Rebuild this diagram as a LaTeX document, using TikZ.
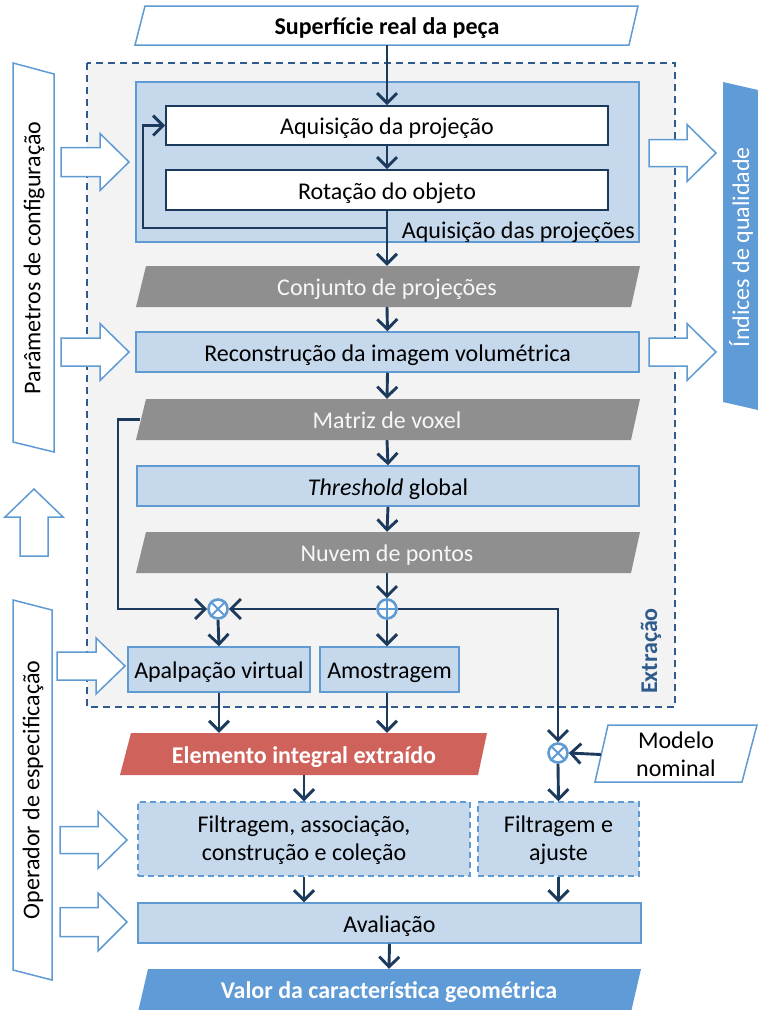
\documentclass[tikz,border=0pt]{standalone}
\usepackage{fontspec}
\setmainfont{Carlito}
\usetikzlibrary{arrows.meta,calc}
\definecolor{lblue}{HTML}{C5D8EC}
\definecolor{bblue}{HTML}{5F9AD3}
\definecolor{navy}{HTML}{1B3A5C}
\definecolor{dgray}{HTML}{8F8F8F}
\definecolor{redd}{HTML}{D0625C}
\definecolor{bgray}{HTML}{F3F3F3}
\definecolor{xblue}{HTML}{2E5A8C}
\definecolor{pblue}{HTML}{5F9BD7}
\newcommand\myrarr[6]{\draw[blk] (#1,{#4-#5}) -- (#2,{#4-#5}) -- (#2,{#4-#6}) -- (#3,#4) -- (#2,{#4+#6}) -- (#2,{#4+#5}) -- (#1,{#4+#5}) -- cycle;}
\begin{document}
\begin{tikzpicture}[x=1pt,y=-1pt,font=\fontsize{24}{28}\selectfont,
  conn/.style={draw=navy,line width=2.9pt,-{Straight Barb[length=10pt,width=20pt]}},
  bluebox/.style={draw=bblue,fill=lblue,line width=1.5pt,inner sep=0pt},
  dashbox/.style={bluebox,dash pattern=on 6pt off 4pt},
  whitebox/.style={draw=navy,fill=white,line width=1.8pt,inner sep=0pt},
  blk/.style={draw=bblue,fill=white,line width=1.5pt,line join=miter},
  panel/.style={draw=bblue,fill=white,line width=1.5pt},
  graypara/.style={fill=dgray},
  ptxt/.style={inner sep=0pt},
  tb/.style={text height=20pt,text depth=2pt},
  bold/.style={font=\fontsize{24}{28}\selectfont\bfseries},
  junc/.style={circle,draw=bblue,fill=white,line width=2.6pt,minimum size=19pt,inner sep=0pt},
  jx/.style={draw=bblue,line width=2pt,shorten <=1.8pt,shorten >=1.8pt}]
\useasboundingbox (0,0) rectangle (758,1010);
% extraction dashed container
\draw[draw=xblue,fill=bgray,line width=1.8pt,dash pattern=on 7pt off 5pt] (87,63) rectangle (675,707);
\node[rotate=90,bold,text=xblue,inner sep=0pt] (extr) at (651,651) {Extração};
% acquisition container
\draw[draw=bblue,fill=lblue,line width=1.5pt] (136,82) rectangle (639,242);
\node[anchor=east,inner sep=0pt,tb] (acqlbl) at (635,229) {Aquisição das projeções};
% top input
\draw[panel] (145,6) -- (638,6) -- (629,45) -- (135,45) -- cycle;
\node[ptxt,tb,minimum width=480pt,minimum height=39pt,bold] (super) at (387,25.5) {Superfície real da peça};
% inner acquisition boxes
\node[whitebox,tb,minimum width=442pt,minimum height=39pt] (aqp) at (387,125.5) {Aquisição da projeção};
\node[whitebox,tb,minimum width=442pt,minimum height=40pt] (rot) at (387,190) {Rotação do objeto};
% gray parallelograms
\fill[graypara] (146,266) -- (640,266) -- (631,307) -- (136,307) -- cycle;
\node[ptxt,tb,minimum width=494pt,minimum height=41pt,text=white!94!gray] (conj) at (387,286.5) {Conjunto de projeções};
\node[bluebox,tb,minimum width=503pt,minimum height=40pt] (recon) at (387.5,352) {Reconstrução da imagem volumétrica};
\fill[graypara] (146,399) -- (640,399) -- (631,440) -- (136,440) -- cycle;
\node[ptxt,tb,minimum width=494pt,minimum height=41pt,text=white!94!gray] (matriz) at (387,419.5) {Matriz de voxel};
\node[bluebox,tb,minimum width=502pt,minimum height=40pt] (thr) at (388,486) {\textit{Threshold} global};
\fill[graypara] (146,532) -- (640,532) -- (631,573) -- (136,573) -- cycle;
\node[ptxt,tb,minimum width=494pt,minimum height=41pt,text=white!94!gray] (nuvem) at (387,552.5) {Nuvem de pontos};
% junctions
\node[junc] (o1) at (218,609) {};
\draw[jx] (o1.north east) -- (o1.south west) (o1.north west) -- (o1.south east);
\node[junc] (plus) at (387,609) {};
\draw[jx] (plus.north) -- (plus.south) (plus.west) -- (plus.east);
\node[junc] (o2) at (558,753) {};
\draw[jx] (o2.north east) -- (o2.south west) (o2.north west) -- (o2.south east);
% lower extraction boxes
\node[bluebox,tb,minimum width=182pt,minimum height=45pt] (apal) at (219,669.5) {Apalpação virtual};
\node[bluebox,tb,minimum width=139pt,minimum height=45pt] (amo) at (389.5,669.5) {Amostragem};
% elemento
\fill[redd] (131,733) -- (487,733) -- (478,775) -- (120,775) -- cycle;
\node[ptxt,tb,minimum width=350pt,minimum height=42pt,text=white,bold] (elem) at (304,754) {Elemento integral extraído};
% modelo nominal
\draw[panel] (608,725) -- (757,725) -- (742,782) -- (595,782) -- cycle;
\node[ptxt,minimum width=150pt,minimum height=57pt,align=center] (modelo) at (676,754.5) {Modelo\\nominal};
% filtering boxes
\node[dashbox,minimum width=332pt,minimum height=74pt,align=center] (fac) at (304,839) {\strut Filtragem, associação,\\construção e coleção};
\node[dashbox,minimum width=161pt,minimum height=74pt,align=center] (fa) at (558.5,839) {\strut Filtragem e\\ajuste};
\node[bluebox,tb,minimum width=503pt,minimum height=40pt] (aval) at (389.5,923) {Avaliação};
% valor
\fill[pblue] (148,969) -- (641,969) -- (631,1012) -- (138,1012) -- cycle;
\node[ptxt,tb,minimum width=480pt,minimum height=41pt,text=white,bold] (valor) at (389,989.5) {Valor da característica geométrica};
% left panels
\draw[panel] (13,63) -- (54,74) -- (54,452) -- (13,442) -- cycle;
\node[rotate=90,inner sep=0pt] (param) at (34,258) {Parâmetros de configuração};
\draw[panel] (13,600) -- (52,610) -- (52,980) -- (13,970) -- cycle;
\node[rotate=90,inner sep=0pt] (oper) at (33,790) {Operador de especificação};
% right panel
\fill[pblue] (723,82) -- (758,90) -- (758,410) -- (723,402) -- cycle;
\node[rotate=90,inner sep=0pt,text=white] (indices) at (741,247) {Índices de qualidade};
% block arrows
\myrarr{61}{100}{129}{162}{14.5}{28.5}
\myrarr{61}{100}{129}{352}{14}{28.5}
\myrarr{57}{96}{125}{666}{14}{28}
\myrarr{60}{98}{127}{840}{13.5}{28.5}
\myrarr{60}{98}{127}{922}{14.5}{29}
\myrarr{649}{687}{716}{153}{13.5}{28.5}
\myrarr{649}{687}{716}{352}{14}{28.5}
\draw[blk] (34,489) -- (63,517) -- (48,517) -- (48,556) -- (20,556) -- (20,517) -- (5,517) -- cycle;
% connectors
\draw[conn] (super.south) -- (aqp.north);
\draw[conn] (aqp.south) -- (rot.north);
\draw[conn] (rot.south) -- (conj.north);
\coordinate (lp) at (387,228);
\coordinate (lpl) at (143,228);
\draw[conn] (lp) -- (lpl) |- (aqp.west);
\draw[conn] (conj.south) -- (recon.north);
\draw[conn] (recon.south) -- (matriz.north);
\draw[conn] (matriz.south) -- (thr.north);
\draw[conn] (thr.south) -- (nuvem.north);
\draw[conn] (nuvem.south) -- (plus.north);
\coordinate (mleft) at (118,419.5);
\draw[conn] (matriz.west) -- (mleft) |- (o1.west);
\draw[conn] (plus.west) -- (o1.east);
\draw[conn] (plus.east) -| (o2.north);
\draw[conn] (o1.south) -- (apal.north);
\draw[conn] (plus.south) -- (plus.south |- amo.north);
\draw[conn] (modelo.west) -- (o2.east);
\draw[conn] (o2.south) -- (fa.north);
\draw[conn] (apal.south) -- (apal.south |- elem.north);
\draw[conn] (amo.south -| plus) -- (plus |- elem.north);
\draw[conn] (elem.south) -- (fac.north);
\draw[conn] (fac.south) -- (fac.south |- aval.north);
\draw[conn] (fa.south) -- (fa.south |- aval.north);
\draw[conn] (aval.south) -- (valor.north);
\end{tikzpicture}
\end{document}
